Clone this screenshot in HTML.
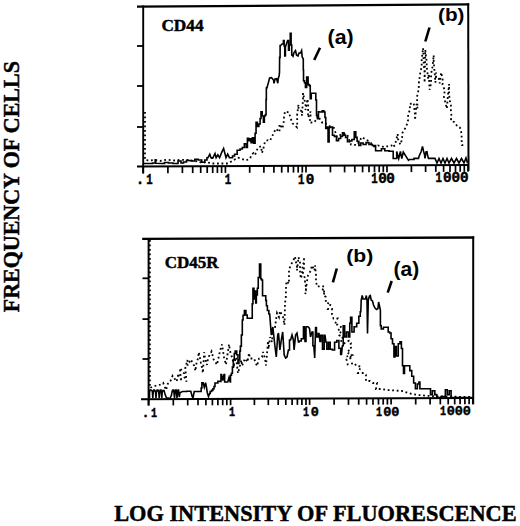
<!DOCTYPE html>
<html><head><meta charset="utf-8"><style>
html,body{margin:0;padding:0;background:#fff;}
svg{display:block;}
</style></head><body>
<svg width="520" height="526" viewBox="0 0 520 526">
<rect width="520" height="526" fill="#fff"/>
<line x1="137" y1="6.6" x2="469.2" y2="4.3" stroke="#000" stroke-width="2.3"/>
<line x1="143.2" y1="5.5" x2="143.2" y2="173.5" stroke="#000" stroke-width="1.9"/>
<line x1="468.2" y1="3.3" x2="468.5" y2="170.8" stroke="#000" stroke-width="2"/>
<line x1="137" y1="166.5" x2="469" y2="165" stroke="#000" stroke-width="2.1"/>
<line x1="137" y1="46" x2="143.2" y2="46" stroke="#000" stroke-width="1.8"/>
<line x1="137" y1="86" x2="143.2" y2="86" stroke="#000" stroke-width="1.8"/>
<line x1="137" y1="127" x2="143.2" y2="127" stroke="#000" stroke-width="1.8"/>
<line x1="143.2" y1="166.5" x2="143.2" y2="173.3" stroke="#000" stroke-width="1.7"/>
<line x1="167.9" y1="166.4" x2="167.9" y2="173.2" stroke="#000" stroke-width="1.7"/>
<line x1="182.4" y1="166.3" x2="182.4" y2="173.1" stroke="#000" stroke-width="1.7"/>
<line x1="192.7" y1="166.3" x2="192.7" y2="173.1" stroke="#000" stroke-width="1.7"/>
<line x1="200.7" y1="166.2" x2="200.7" y2="173.0" stroke="#000" stroke-width="1.7"/>
<line x1="207.2" y1="166.2" x2="207.2" y2="173.0" stroke="#000" stroke-width="1.7"/>
<line x1="212.7" y1="166.2" x2="212.7" y2="173.0" stroke="#000" stroke-width="1.7"/>
<line x1="217.4" y1="166.2" x2="217.4" y2="173.0" stroke="#000" stroke-width="1.7"/>
<line x1="221.6" y1="166.1" x2="221.6" y2="172.9" stroke="#000" stroke-width="1.7"/>
<line x1="225.4" y1="166.1" x2="225.4" y2="172.9" stroke="#000" stroke-width="1.7"/>
<line x1="249.7" y1="166.0" x2="249.7" y2="172.8" stroke="#000" stroke-width="1.7"/>
<line x1="263.9" y1="165.9" x2="263.9" y2="172.7" stroke="#000" stroke-width="1.7"/>
<line x1="273.9" y1="165.9" x2="273.9" y2="172.7" stroke="#000" stroke-width="1.7"/>
<line x1="281.7" y1="165.9" x2="281.7" y2="172.7" stroke="#000" stroke-width="1.7"/>
<line x1="288.1" y1="165.8" x2="288.1" y2="172.6" stroke="#000" stroke-width="1.7"/>
<line x1="293.5" y1="165.8" x2="293.5" y2="172.6" stroke="#000" stroke-width="1.7"/>
<line x1="298.2" y1="165.8" x2="298.2" y2="172.6" stroke="#000" stroke-width="1.7"/>
<line x1="302.3" y1="165.8" x2="302.3" y2="172.6" stroke="#000" stroke-width="1.7"/>
<line x1="306.0" y1="165.7" x2="306.0" y2="172.5" stroke="#000" stroke-width="1.7"/>
<line x1="330.4" y1="165.6" x2="330.4" y2="172.4" stroke="#000" stroke-width="1.7"/>
<line x1="344.6" y1="165.6" x2="344.6" y2="172.4" stroke="#000" stroke-width="1.7"/>
<line x1="354.8" y1="165.5" x2="354.8" y2="172.3" stroke="#000" stroke-width="1.7"/>
<line x1="362.6" y1="165.5" x2="362.6" y2="172.3" stroke="#000" stroke-width="1.7"/>
<line x1="369.0" y1="165.5" x2="369.0" y2="172.3" stroke="#000" stroke-width="1.7"/>
<line x1="374.5" y1="165.4" x2="374.5" y2="172.2" stroke="#000" stroke-width="1.7"/>
<line x1="379.2" y1="165.4" x2="379.2" y2="172.2" stroke="#000" stroke-width="1.7"/>
<line x1="383.3" y1="165.4" x2="383.3" y2="172.2" stroke="#000" stroke-width="1.7"/>
<line x1="387.0" y1="165.4" x2="387.0" y2="172.2" stroke="#000" stroke-width="1.7"/>
<line x1="411.4" y1="165.3" x2="411.4" y2="172.1" stroke="#000" stroke-width="1.7"/>
<line x1="425.6" y1="165.2" x2="425.6" y2="172.0" stroke="#000" stroke-width="1.7"/>
<line x1="435.8" y1="165.1" x2="435.8" y2="171.9" stroke="#000" stroke-width="1.7"/>
<line x1="443.6" y1="165.1" x2="443.6" y2="171.9" stroke="#000" stroke-width="1.7"/>
<line x1="450.0" y1="165.1" x2="450.0" y2="171.9" stroke="#000" stroke-width="1.7"/>
<line x1="455.5" y1="165.1" x2="455.5" y2="171.9" stroke="#000" stroke-width="1.7"/>
<line x1="460.2" y1="165.0" x2="460.2" y2="171.8" stroke="#000" stroke-width="1.7"/>
<line x1="464.3" y1="165.0" x2="464.3" y2="171.8" stroke="#000" stroke-width="1.7"/>
<line x1="468.0" y1="165.0" x2="468.0" y2="171.8" stroke="#000" stroke-width="1.7"/>
<polyline points="144.00,163.50 150.00,163.50 152.50,163.50 152.50,163.00 155.00,163.00 155.20,163.00 155.20,159.70 155.40,159.70 155.70,159.70 155.70,163.30 156.00,163.30 162.00,163.50 164.50,163.50 164.50,162.50 167.00,162.50 168.50,162.50 168.50,163.00 170.00,163.00 173.00,163.00 173.00,163.50 176.00,163.50 178.00,163.50 178.00,161.00 180.00,161.00 181.00,161.00 181.00,163.00 182.00,163.00 183.50,163.00 183.50,162.00 185.00,162.00 186.50,162.00 186.50,160.50 188.00,160.50 190.00,160.60 191.50,160.60 191.50,161.00 193.00,161.00 194.75,161.00 194.75,159.40 196.50,159.40 198.25,159.40 198.25,160.00 200.00,160.00 201.75,160.00 201.75,162.30 203.50,162.30 204.75,162.30 204.75,160.00 206.00,160.00 207.00,160.00 207.00,157.70 208.00,157.70 209.80,154.20 211.00,157.70 211.85,157.70 211.85,158.30 212.70,158.30 215.00,153.60 216.10,157.70 217.90,154.80 219.60,157.70 221.90,151.90 223.60,148.50 224.80,153.00 226.00,157.70 227.70,154.20 229.40,157.70 231.70,157.70 232.55,157.70 232.55,156.00 233.40,156.00 234.55,156.00 234.55,154.20 235.70,154.20 237.15,154.20 237.15,150.20 238.60,150.20 240.05,150.20 240.05,149.00 241.50,149.00 242.30,149.00 242.30,147.50 243.10,147.50 244.35,147.50 244.35,143.80 245.60,143.80 246.20,143.80 246.20,147.50 246.80,147.50 247.40,147.50 247.40,138.30 248.00,138.30 248.65,138.30 248.65,140.70 249.30,140.70 249.90,140.70 249.90,138.90 250.50,138.90 251.10,138.90 251.10,142.60 251.70,142.60 252.35,142.60 252.35,137.70 253.00,137.70 253.90,137.70 253.90,143.20 254.80,143.20 255.10,143.20 255.10,133.30 255.40,133.30 256.05,133.30 256.05,122.20 256.70,122.20 257.30,122.20 257.30,126.50 257.90,126.50 258.85,126.50 258.85,124.00 259.80,124.00 260.10,124.00 260.10,118.50 260.40,118.50 261.00,118.50 261.00,111.70 261.60,111.70 262.20,111.70 262.20,116.00 262.80,116.00 263.40,116.00 263.40,122.20 264.00,122.20 264.35,122.20 264.35,116.00 264.70,116.00 265.30,116.00 265.30,114.80 265.90,114.80 266.05,114.80 266.05,99.60 266.20,99.60 266.35,99.60 266.35,88.00 266.50,88.00 266.75,88.00 266.75,87.60 267.00,87.60 268.70,81.50 269.60,77.90 271.50,77.60 273.50,80.00 274.00,83.30 275.00,79.00 276.60,78.70 277.80,83.30 278.20,78.70 279.20,75.60 279.50,72.00 279.60,57.40 280.10,57.40 280.10,45.50 280.60,45.50 282.00,44.00 283.00,44.00 283.40,44.00 283.40,40.50 283.80,40.50 284.15,40.50 284.15,46.00 284.50,46.00 284.75,46.00 284.75,56.00 285.00,56.00 285.40,56.00 285.40,46.00 285.80,46.00 287.00,42.00 287.60,42.00 287.60,40.50 288.20,40.50 288.50,40.50 288.50,50.30 288.80,50.30 289.30,50.30 289.30,45.00 289.80,45.00 290.25,45.00 290.25,33.30 290.70,33.30 291.10,33.30 291.10,45.00 291.50,45.00 291.75,45.00 291.75,55.00 292.00,55.00 293.00,56.20 294.00,52.50 295.50,50.60 296.50,55.00 298.00,56.00 299.00,53.00 300.50,53.00 301.60,50.60 302.20,57.00 303.30,59.00 303.30,70.00 303.52,70.00 303.52,80.80 303.75,80.80 304.48,80.80 304.48,82.70 305.20,82.70 305.45,82.70 305.45,87.50 305.70,87.50 306.65,87.50 306.65,77.00 307.60,77.00 308.10,77.00 308.10,84.60 308.60,84.60 309.30,84.60 309.30,85.60 310.00,85.60 310.25,85.60 310.25,98.60 310.50,98.60 311.25,98.60 311.25,93.30 312.00,93.30 315.30,93.30 315.80,93.30 315.80,100.00 316.30,100.00 316.50,100.00 316.50,115.40 316.70,115.40 317.45,115.40 317.45,118.60 318.20,118.60 318.45,118.60 318.45,111.80 318.70,111.80 321.00,112.00 322.20,112.00 322.20,110.80 323.40,110.80 323.90,110.80 323.90,112.00 324.40,112.00 324.95,112.00 324.95,117.50 325.50,117.50 325.75,117.50 325.75,128.50 326.00,128.50 326.75,128.50 326.75,127.00 327.50,127.00 328.05,127.00 328.05,142.00 328.60,142.00 329.10,142.00 329.10,127.50 329.60,127.50 330.65,127.50 330.65,127.00 331.70,127.00 332.50,127.00 332.50,135.30 333.30,135.30 334.35,135.30 334.35,136.40 335.40,136.40 336.45,136.40 336.45,140.60 337.50,140.60 338.55,140.60 338.55,138.50 339.60,138.50 340.65,138.50 340.65,136.40 341.70,136.40 342.45,136.40 342.45,132.70 343.20,132.70 344.00,132.70 344.00,135.30 344.80,135.30 345.60,135.30 345.60,137.40 346.40,137.40 347.45,137.40 347.45,141.60 348.50,141.60 349.55,141.60 349.55,141.00 350.60,141.00 351.90,141.00 351.90,139.50 353.20,139.50 354.25,139.50 354.25,131.70 355.30,131.70 355.80,131.70 355.80,137.40 356.30,137.40 357.10,137.40 357.10,141.20 357.90,141.20 358.85,141.20 358.85,145.50 359.80,145.50 360.75,145.50 360.75,143.00 361.70,143.00 363.15,143.00 363.15,144.50 364.60,144.50 366.05,144.50 366.05,142.60 367.50,142.60 368.95,142.60 368.95,144.50 370.40,144.50 372.30,144.50 372.30,145.50 374.20,145.50 375.60,145.50 375.60,150.80 377.00,150.80 380.00,150.80 381.45,150.80 381.45,148.80 382.90,148.80 384.80,148.80 384.80,150.80 386.70,150.80 389.10,150.80 389.10,151.30 391.50,151.30 393.20,151.30 393.20,158.50 396.70,158.50 396.70,151.50 398.70,158.50 400.40,151.50 401.80,158.50 403.30,152.00 408.50,160.30 409.50,159.50 414.00,159.50 414.00,158.40 418.50,158.40 419.00,156.50 420.00,154.00 421.00,152.00 422.50,146.50 423.50,151.00 424.50,154.50 425.00,158.40 426.00,152.00 427.00,151.80 427.50,155.00 428.50,158.40 435.00,158.40 437.00,163.00 439.00,158.50 441.00,163.00 443.00,158.50 445.00,163.00 447.00,158.50 449.00,163.00 451.50,158.50 454.00,163.00 456.50,158.50 459.00,163.00 461.50,158.50 464.00,163.00 466.00,158.00 467.50,163.00" fill="none" stroke="#000" stroke-width="1.6" stroke-linejoin="miter"/>
<polyline points="145.0,112.0 145.0,160.0 150.0,160.5 155.0,160.0 160.0,161.0 167.0,159.7 175.0,160.5 180.0,159.7 186.0,160.0 190.5,160.0 194.0,161.5 198.0,161.0 202.0,163.0 206.0,162.0 212.0,163.5 220.0,163.5 228.0,163.5 234.0,160.0 238.0,157.7 243.0,159.3 246.0,160.5 250.0,158.6 252.0,154.3 253.5,153.1 255.0,155.0 258.0,147.5 261.0,146.3 262.0,153.1 264.0,146.3 265.0,141.4 268.0,140.1 270.0,140.7 273.0,134.6 275.8,128.8 279.5,132.0 279.5,124.2 282.5,128.5 283.8,121.2 284.0,117.0 285.0,111.4 289.0,112.5 290.5,118.0 292.5,123.3 297.0,127.3 297.3,122.0 297.0,115.7 298.5,104.5 298.5,109.5 301.5,111.0 302.0,115.7 303.0,98.6 303.0,93.0 305.5,104.5 305.5,110.0 307.5,99.0 308.2,104.5 308.0,115.5 308.2,117.5 310.6,111.5 310.5,117.5 309.5,122.5 312.0,122.5 314.0,122.5 316.0,120.0 318.0,116.0 322.0,122.5 325.0,122.5 327.0,125.0 334.0,128.0 337.0,137.0 342.0,134.0 347.0,134.0 351.0,144.7 357.0,145.0 362.0,137.0 365.0,139.0 370.0,142.0 374.0,146.5 378.0,145.5 384.0,147.0 386.0,146.3 388.4,146.3 391.5,145.5 392.3,147.5 394.9,145.2 397.7,134.0 398.0,139.0 400.3,144.6 402.0,139.6 402.4,133.0 406.3,126.3 408.1,120.1 408.1,114.6 410.2,109.1 409.5,104.1 413.7,103.0 414.4,109.6 415.0,114.6 415.0,120.1 416.6,103.8 417.6,108.4 416.9,97.1 418.1,91.9 418.8,86.9 418.8,83.3 419.5,78.2 420.3,72.5 421.7,66.7 421.7,58.8 422.4,53.7 423.1,47.9 423.9,66.7 424.6,72.5 424.6,82.6 425.3,49.8 425.7,54.4 426.7,61.6 426.7,66.7 428.2,79.0 428.9,73.9 429.6,89.8 431.1,83.3 431.1,73.9 432.5,66.7 433.7,55.2 433.7,61.6 435.4,82.6 436.1,72.5 436.1,78.2 439.0,79.0 439.7,83.3 441.2,72.5 442.6,79.0 442.6,84.7 444.8,90.5 443.9,96.6 445.4,102.8 446.9,108.6 447.8,97.1 449.1,84.0 449.1,89.8 449.1,94.1 449.6,99.7 450.9,105.4 450.9,111.0 451.5,115.8 450.9,120.5 454.5,122.2 457.5,126.5 460.0,127.7 461.6,133.5 461.6,139.6 462.0,145.2 466.0,145.2" fill="none" stroke="#000" stroke-width="1.8" stroke-dasharray="1.8 2.7"/>
<line x1="142.2" y1="238.9" x2="474.2" y2="237.5" stroke="#000" stroke-width="2.3"/>
<line x1="148.6" y1="238" x2="148.6" y2="405.5" stroke="#000" stroke-width="2"/>
<line x1="473.2" y1="236.5" x2="473.2" y2="404.2" stroke="#000" stroke-width="2"/>
<line x1="141" y1="399.2" x2="474" y2="398" stroke="#000" stroke-width="2.1"/>
<line x1="142.5" y1="278.3" x2="148.6" y2="278.3" stroke="#000" stroke-width="1.8"/>
<line x1="142.5" y1="319.1" x2="148.6" y2="319.1" stroke="#000" stroke-width="1.8"/>
<line x1="142.5" y1="359.0" x2="148.6" y2="359.0" stroke="#000" stroke-width="1.8"/>
<line x1="148.6" y1="399.2" x2="148.6" y2="405.5" stroke="#000" stroke-width="1.7"/>
<line x1="173.3" y1="399.1" x2="173.3" y2="405.4" stroke="#000" stroke-width="1.7"/>
<line x1="187.7" y1="399.1" x2="187.7" y2="405.4" stroke="#000" stroke-width="1.7"/>
<line x1="198.0" y1="399.0" x2="198.0" y2="405.3" stroke="#000" stroke-width="1.7"/>
<line x1="205.9" y1="399.0" x2="205.9" y2="405.3" stroke="#000" stroke-width="1.7"/>
<line x1="212.4" y1="399.0" x2="212.4" y2="405.3" stroke="#000" stroke-width="1.7"/>
<line x1="217.9" y1="398.9" x2="217.9" y2="405.2" stroke="#000" stroke-width="1.7"/>
<line x1="222.7" y1="398.9" x2="222.7" y2="405.2" stroke="#000" stroke-width="1.7"/>
<line x1="226.8" y1="398.9" x2="226.8" y2="405.2" stroke="#000" stroke-width="1.7"/>
<line x1="230.6" y1="398.9" x2="230.6" y2="405.2" stroke="#000" stroke-width="1.7"/>
<line x1="254.4" y1="398.8" x2="254.4" y2="405.1" stroke="#000" stroke-width="1.7"/>
<line x1="268.3" y1="398.8" x2="268.3" y2="405.1" stroke="#000" stroke-width="1.7"/>
<line x1="278.2" y1="398.7" x2="278.2" y2="405.0" stroke="#000" stroke-width="1.7"/>
<line x1="285.8" y1="398.7" x2="285.8" y2="405.0" stroke="#000" stroke-width="1.7"/>
<line x1="292.1" y1="398.7" x2="292.1" y2="405.0" stroke="#000" stroke-width="1.7"/>
<line x1="297.4" y1="398.6" x2="297.4" y2="404.9" stroke="#000" stroke-width="1.7"/>
<line x1="301.9" y1="398.6" x2="301.9" y2="404.9" stroke="#000" stroke-width="1.7"/>
<line x1="306.0" y1="398.6" x2="306.0" y2="404.9" stroke="#000" stroke-width="1.7"/>
<line x1="309.6" y1="398.6" x2="309.6" y2="404.9" stroke="#000" stroke-width="1.7"/>
<line x1="334.1" y1="398.5" x2="334.1" y2="404.8" stroke="#000" stroke-width="1.7"/>
<line x1="348.5" y1="398.5" x2="348.5" y2="404.8" stroke="#000" stroke-width="1.7"/>
<line x1="358.7" y1="398.4" x2="358.7" y2="404.7" stroke="#000" stroke-width="1.7"/>
<line x1="366.6" y1="398.4" x2="366.6" y2="404.7" stroke="#000" stroke-width="1.7"/>
<line x1="373.0" y1="398.4" x2="373.0" y2="404.7" stroke="#000" stroke-width="1.7"/>
<line x1="378.5" y1="398.3" x2="378.5" y2="404.6" stroke="#000" stroke-width="1.7"/>
<line x1="383.2" y1="398.3" x2="383.2" y2="404.6" stroke="#000" stroke-width="1.7"/>
<line x1="387.4" y1="398.3" x2="387.4" y2="404.6" stroke="#000" stroke-width="1.7"/>
<line x1="391.1" y1="398.3" x2="391.1" y2="404.6" stroke="#000" stroke-width="1.7"/>
<line x1="415.7" y1="398.2" x2="415.7" y2="404.5" stroke="#000" stroke-width="1.7"/>
<line x1="430.1" y1="398.2" x2="430.1" y2="404.5" stroke="#000" stroke-width="1.7"/>
<line x1="440.3" y1="398.1" x2="440.3" y2="404.4" stroke="#000" stroke-width="1.7"/>
<line x1="448.2" y1="398.1" x2="448.2" y2="404.4" stroke="#000" stroke-width="1.7"/>
<line x1="454.7" y1="398.1" x2="454.7" y2="404.4" stroke="#000" stroke-width="1.7"/>
<line x1="460.1" y1="398.0" x2="460.1" y2="404.3" stroke="#000" stroke-width="1.7"/>
<line x1="464.9" y1="398.0" x2="464.9" y2="404.3" stroke="#000" stroke-width="1.7"/>
<line x1="469.1" y1="398.0" x2="469.1" y2="404.3" stroke="#000" stroke-width="1.7"/>
<line x1="472.8" y1="398.0" x2="472.8" y2="404.3" stroke="#000" stroke-width="1.7"/>
<polyline points="149.50,398.00 149.50,390.50 150.25,390.50 150.25,390.00 151.00,390.00 152.30,391.00 152.80,398.00 153.30,391.00 153.90,391.00 153.90,390.00 154.50,390.00 155.50,392.00 156.00,398.00 156.50,391.00 157.25,391.00 157.25,390.00 158.00,390.00 158.70,392.00 159.20,398.00 159.70,391.00 160.35,391.00 160.35,390.00 161.00,390.00 161.80,398.00 162.30,391.00 163.15,391.00 163.15,390.50 164.00,390.50 165.00,394.00 166.50,398.00 168.25,398.00 168.25,398.50 170.00,398.50 171.50,395.00 172.20,391.00 172.95,391.00 172.95,390.00 173.70,390.00 174.50,398.00 175.20,391.00 175.75,391.00 175.75,390.00 176.30,390.00 177.00,398.00 177.80,391.00 178.20,391.00 178.20,390.00 178.60,390.00 179.30,397.00 180.00,392.70 182.30,391.50 186.55,391.50 186.55,391.20 190.80,391.20 192.00,396.00 193.00,398.00 194.20,391.50 200.80,391.50 201.15,391.50 201.15,388.00 201.50,388.00 201.90,388.00 201.90,382.70 202.30,382.70 203.20,382.70 204.30,387.30 205.60,382.70 206.50,387.30 207.30,392.70 208.50,396.50 209.60,393.50 210.20,393.50 210.20,391.50 210.80,391.50 211.55,391.50 211.55,390.40 212.30,390.40 212.90,390.40 212.90,388.80 213.50,388.80 214.05,388.80 214.05,386.50 214.60,386.50 215.00,386.50 215.00,383.00 215.40,383.00 217.85,383.00 217.85,381.40 220.30,381.40 220.95,381.40 220.95,374.60 221.60,374.60 222.80,380.70 224.00,374.60 224.65,374.60 224.65,382.00 225.30,382.00 227.80,382.00 229.00,377.60 230.20,382.00 230.50,382.00 230.50,375.20 230.80,375.20 231.45,375.20 231.45,373.30 232.10,373.30 232.40,373.30 232.40,367.10 232.70,367.10 233.30,367.10 233.30,359.70 233.90,359.70 234.25,359.70 234.25,353.50 234.60,353.50 235.20,353.50 235.20,351.10 235.80,351.10 236.70,351.10 236.70,354.80 237.60,354.80 237.95,354.80 237.95,363.40 238.30,363.40 238.90,363.40 238.90,359.70 239.50,359.70 239.80,359.70 239.80,351.10 240.10,351.10 240.40,351.10 240.40,346.10 240.70,346.10 241.35,346.10 241.35,335.00 242.00,335.00 242.30,335.00 242.30,320.00 242.60,320.00 243.05,320.00 243.05,315.20 243.50,315.20 244.40,315.20 244.40,310.50 245.30,310.50 245.90,310.50 245.90,315.00 246.50,315.00 247.25,315.00 247.25,318.30 248.00,318.30 252.00,318.30 252.25,318.30 252.25,303.70 252.50,303.70 252.95,303.70 252.95,288.30 253.40,288.30 253.95,288.30 253.95,299.00 254.50,299.00 254.95,299.00 254.95,291.00 255.40,291.00 255.70,291.00 255.70,303.00 256.00,303.00 256.35,303.00 256.35,295.00 256.70,295.00 257.35,295.00 257.35,288.30 258.00,288.30 258.25,288.30 258.25,277.50 258.50,277.50 259.50,277.50 259.50,264.00 260.50,264.00 260.75,264.00 260.75,278.80 261.00,278.80 261.55,278.80 261.55,280.00 262.10,280.00 262.55,280.00 262.55,295.70 263.00,295.70 265.50,295.70 265.75,295.70 265.75,300.40 266.00,300.40 266.40,300.40 266.40,305.80 266.80,305.80 267.40,305.80 267.40,310.50 268.00,310.50 268.85,310.50 268.85,314.00 269.70,314.00 270.60,326.00 271.30,335.00 272.80,327.00 273.50,333.00 274.90,346.00 276.30,357.00 277.70,335.00 278.50,333.00 279.90,350.00 281.30,340.00 282.70,332.00 284.20,355.00 285.60,358.00 287.00,357.00 288.40,350.00 289.50,350.00 289.50,340.00 290.60,340.00 292.00,335.00 293.40,340.00 294.10,350.00 295.60,335.00 297.00,333.00 298.40,342.00 299.20,342.00 299.20,341.00 300.00,341.00 301.30,341.00 301.30,338.80 302.60,338.80 303.45,338.80 303.45,326.70 304.30,326.70 305.00,341.40 306.00,341.40 306.00,326.70 307.00,326.70 308.00,326.70 309.50,328.40 310.50,337.00 312.00,332.00 312.90,332.00 312.90,345.70 313.80,345.70 314.70,357.90 315.60,327.60 316.45,327.60 316.45,337.00 317.30,337.00 318.15,337.00 318.15,333.60 319.00,333.60 320.00,341.40 320.80,341.40 320.80,335.40 321.60,335.40 322.50,335.40 322.50,349.20 323.40,349.20 324.20,349.20 324.20,335.40 325.00,335.40 326.00,342.30 326.85,342.30 326.85,349.20 327.70,349.20 328.55,349.20 328.55,342.30 329.40,342.30 330.20,342.30 330.20,349.20 331.00,349.20 332.35,349.20 332.35,350.00 333.70,350.00 334.60,350.00 334.60,342.30 335.50,342.30 336.75,342.30 336.75,340.60 338.00,340.60 338.90,340.60 338.90,348.30 339.80,348.30 340.65,348.30 340.65,354.40 341.50,354.40 342.40,345.70 343.20,345.70 343.20,325.80 344.00,325.80 344.65,325.80 344.65,337.00 345.30,337.00 346.45,337.00 346.45,332.00 347.60,332.00 348.45,332.00 348.45,337.00 349.30,337.00 349.75,337.00 349.75,323.30 350.20,323.30 350.60,323.30 350.60,317.20 351.00,317.20 351.90,317.20 351.90,332.00 352.80,332.00 354.10,332.00 354.10,326.70 355.40,326.70 356.70,326.70 356.70,323.30 358.00,323.30 358.85,323.30 358.85,316.30 359.70,316.30 360.25,316.30 360.25,311.70 360.80,311.70 361.20,300.00 362.20,295.50 363.00,299.00 365.50,299.00 366.30,295.50 367.00,300.00 367.50,333.60 368.30,300.00 369.50,296.00 370.30,295.50 371.20,300.00 372.50,301.00 373.50,305.00 375.00,308.00 376.50,309.50 378.00,308.50 378.60,302.00 379.30,305.00 380.40,310.30 380.40,325.80 381.20,325.80 381.20,329.00 382.00,329.00 383.40,329.00 383.40,327.30 384.80,327.30 387.70,327.30 388.20,327.30 388.20,332.00 388.70,332.00 389.65,332.00 389.65,333.00 390.60,333.00 391.05,333.00 391.05,338.80 391.50,338.80 392.50,338.80 392.50,343.70 393.50,343.70 393.95,343.70 393.95,357.00 394.40,357.00 394.90,357.00 394.90,346.50 395.40,346.50 396.35,346.50 396.35,356.00 397.30,356.00 398.25,356.00 398.25,343.70 399.20,343.70 400.00,343.70 400.00,341.70 400.80,341.70 401.40,341.70 401.40,348.50 402.00,348.50 402.50,348.50 402.50,365.80 403.00,365.80 403.50,365.80 403.50,373.50 404.00,373.50 404.50,373.50 404.50,365.80 405.00,365.80 408.80,365.80 409.80,365.80 409.80,370.60 410.80,370.60 411.75,370.60 411.75,376.30 412.70,376.30 413.65,376.30 413.65,383.00 414.60,383.00 415.40,383.00 415.40,388.80 416.20,388.80 417.35,388.80 417.35,384.00 418.50,384.00 418.95,384.00 418.95,382.00 419.40,382.00 419.90,382.00 419.90,388.80 420.40,388.80 430.00,388.80 430.50,388.80 430.50,394.60 431.00,394.60 432.40,394.60 432.40,390.80 433.80,390.80 434.80,390.80 434.80,394.60 435.80,394.60 436.75,394.60 436.75,397.50 437.70,397.50 441.05,397.50 441.05,396.50 444.40,396.50 445.35,396.50 445.35,389.80 446.30,389.80 447.30,389.80 447.30,394.60 448.30,394.60 449.25,394.60 449.25,390.80 450.20,390.80 451.10,390.80 451.10,397.50 452.00,397.50 472.00,397.50" fill="none" stroke="#000" stroke-width="1.6" stroke-linejoin="miter"/>
<polyline points="149.9,240.0 149.9,388.0 152.0,387.0 155.0,386.0 161.2,384.4 163.2,383.0 166.0,390.0 167.9,383.7 169.9,382.4 172.6,375.8 176.6,381.5 178.5,373.5 178.5,376.5 181.0,378.7 181.0,381.5 179.9,368.0 184.0,373.5 184.0,376.5 186.5,381.5 185.3,368.0 187.5,360.0 187.5,365.5 190.8,359.5 194.1,365.6 195.5,371.0 196.1,364.9 198.2,357.5 198.8,352.1 200.9,362.9 202.2,368.3 202.9,373.0 204.2,352.1 204.9,357.5 206.9,364.9 208.3,357.5 211.6,351.4 213.6,359.5 217.0,364.7 220.0,351.0 222.0,344.3 224.0,357.2 226.0,364.7 229.0,344.3 230.0,351.0 232.0,357.2 234.0,364.7 236.0,357.2 238.0,373.3 241.4,360.0 242.0,366.0 245.0,358.5 247.5,362.0 249.0,353.0 250.0,358.5 254.0,358.5 257.0,366.0 259.0,358.5 262.0,357.0 263.0,352.0 265.0,358.5 266.0,365.5 267.0,354.0 268.0,341.0 268.5,349.0 270.0,337.0 272.0,342.0 273.0,327.0 275.0,327.0 277.0,313.0 279.0,317.0 280.0,311.0 283.0,317.0 284.5,325.0 285.0,303.0 285.8,297.3 286.0,287.0 286.5,281.2 287.3,282.0 289.0,283.8 289.0,278.5 289.0,273.0 289.0,270.5 290.4,265.5 292.7,262.0 295.0,256.5 296.0,262.3 297.0,265.4 297.0,270.5 298.5,257.3 300.0,262.3 300.0,268.0 300.0,273.0 301.0,278.5 302.5,270.5 302.5,265.4 304.0,262.3 304.0,257.0 304.0,268.0 303.0,273.0 305.0,278.5 305.0,283.8 306.0,286.7 306.0,289.6 305.3,294.2 307.0,281.2 308.0,275.6 310.5,271.0 312.0,265.4 314.5,270.5 315.0,265.4 316.0,275.6 316.0,281.2 317.0,286.5 320.3,286.3 324.2,286.3 323.0,289.0 321.8,291.5 325.8,291.5 323.0,295.0 325.8,297.0 325.8,303.0 331.0,303.5 328.0,309.0 332.0,309.0 332.0,314.5 333.5,318.5 337.5,318.5 334.7,324.6 337.8,324.6 341.5,327.5 337.8,330.7 341.5,333.0 339.5,335.4 343.0,337.0 340.3,340.0 343.9,343.6 349.0,340.7 351.0,343.0 349.8,345.9 351.5,348.7 346.7,352.0 348.7,353.4 352.0,355.0 346.7,356.5 349.6,356.5 352.6,357.5 346.5,359.5 347.7,364.4 354.3,363.0 356.3,366.0 361.0,366.5 358.0,373.0 364.0,373.0 366.0,375.0 366.0,381.0 370.0,381.0 373.0,383.0 377.0,383.0 376.0,389.0 381.0,389.0 388.0,390.0 395.0,390.5 402.0,391.0 410.0,393.5 418.0,395.0 430.0,396.0 445.0,396.5 470.0,397.0" fill="none" stroke="#000" stroke-width="1.8" stroke-dasharray="1.8 2.7"/>
<line x1="320" y1="47.7" x2="314.2" y2="60" stroke="#000" stroke-width="2.6"/>
<line x1="429.5" y1="27.5" x2="425.3" y2="41.5" stroke="#000" stroke-width="2.6"/>
<line x1="336.8" y1="268.5" x2="332.9" y2="282.3" stroke="#000" stroke-width="2.6"/>
<line x1="391.7" y1="281" x2="387.7" y2="292.6" stroke="#000" stroke-width="2.6"/>
<text transform="translate(161.39,30.50) scale(0.9738,1)" style="font-family:'Liberation Serif',serif;font-weight:bold;font-size:17.73px" stroke="#000" stroke-width="0.45">CD44</text>
<text transform="translate(164.65,267.50) scale(0.9603,1)" style="font-family:'Liberation Serif',serif;font-weight:bold;font-size:17.73px" stroke="#000" stroke-width="0.45">CD45R</text>
<text transform="translate(327.53,43.54) scale(1.0285,1)" style="font-family:'Liberation Sans',sans-serif;font-weight:bold;font-size:20.75px">(a)</text>
<text transform="translate(438.07,20.50) scale(1.1442,1)" style="font-family:'Liberation Sans',sans-serif;font-weight:bold;font-size:18.07px">(b)</text>
<text transform="translate(346.14,261.76) scale(1.1008,1)" style="font-family:'Liberation Sans',sans-serif;font-weight:bold;font-size:19.25px">(b)</text>
<text transform="translate(393.55,276.14) scale(1.0113,1)" style="font-family:'Liberation Sans',sans-serif;font-weight:bold;font-size:20.75px">(a)</text>
<text transform="translate(114.16,521.30) scale(0.9837,1)" style="font-family:'Liberation Serif',serif;font-weight:bold;font-size:22.73px" stroke="#000" stroke-width="0.45">LOG INTENSITY OF FLUORESCENCE</text>
<text transform="translate(18.80,312.23) rotate(-90) scale(0.9475,1)" style="font-family:'Liberation Serif',serif;font-weight:bold;font-size:23.21px" stroke="#000" stroke-width="0.45">FREQUENCY OF CELLS</text>
<text transform="translate(140.00,184.2) scale(1.0,1)" text-anchor="middle" style="font-family:'Liberation Mono',monospace;font-weight:bold;font-size:14.3px" stroke="#000" stroke-width="0.45">.</text>
<text transform="translate(149.40,184.2) scale(0.75,1)" text-anchor="middle" style="font-family:'Liberation Mono',monospace;font-weight:bold;font-size:14.3px" stroke="#000" stroke-width="0.45">1</text>
<text transform="translate(227.90,183.5) scale(0.75,1)" text-anchor="middle" style="font-family:'Liberation Mono',monospace;font-weight:bold;font-size:14.3px" stroke="#000" stroke-width="0.45">1</text>
<text transform="translate(301.30,183.5) scale(0.75,1)" text-anchor="middle" style="font-family:'Liberation Mono',monospace;font-weight:bold;font-size:14.3px" stroke="#000" stroke-width="0.45">1</text>
<text transform="translate(309.95,183.5) scale(1.0,1)" text-anchor="middle" style="font-family:'Liberation Mono',monospace;font-weight:bold;font-size:14.3px" stroke="#000" stroke-width="0.45">0</text>
<text transform="translate(374.50,182.7) scale(0.75,1)" text-anchor="middle" style="font-family:'Liberation Mono',monospace;font-weight:bold;font-size:14.3px" stroke="#000" stroke-width="0.45">1</text>
<text transform="translate(382.57,182.7) scale(1.0,1)" text-anchor="middle" style="font-family:'Liberation Mono',monospace;font-weight:bold;font-size:14.3px" stroke="#000" stroke-width="0.45">0</text>
<text transform="translate(390.64,182.7) scale(1.0,1)" text-anchor="middle" style="font-family:'Liberation Mono',monospace;font-weight:bold;font-size:14.3px" stroke="#000" stroke-width="0.45">0</text>
<text transform="translate(438.70,182.0) scale(0.75,1)" text-anchor="middle" style="font-family:'Liberation Mono',monospace;font-weight:bold;font-size:14.3px" stroke="#000" stroke-width="0.45">1</text>
<text transform="translate(447.20,182.0) scale(1.0,1)" text-anchor="middle" style="font-family:'Liberation Mono',monospace;font-weight:bold;font-size:14.3px" stroke="#000" stroke-width="0.45">0</text>
<text transform="translate(455.70,182.0) scale(1.0,1)" text-anchor="middle" style="font-family:'Liberation Mono',monospace;font-weight:bold;font-size:14.3px" stroke="#000" stroke-width="0.45">0</text>
<text transform="translate(464.20,182.0) scale(1.0,1)" text-anchor="middle" style="font-family:'Liberation Mono',monospace;font-weight:bold;font-size:14.3px" stroke="#000" stroke-width="0.45">0</text>
<text transform="translate(145.50,417.3) scale(1.0,1)" text-anchor="middle" style="font-family:'Liberation Mono',monospace;font-weight:bold;font-size:13.5px" stroke="#000" stroke-width="0.45">.</text>
<text transform="translate(154.00,417.3) scale(0.75,1)" text-anchor="middle" style="font-family:'Liberation Mono',monospace;font-weight:bold;font-size:13.5px" stroke="#000" stroke-width="0.45">1</text>
<text transform="translate(232.00,416.3) scale(0.75,1)" text-anchor="middle" style="font-family:'Liberation Mono',monospace;font-weight:bold;font-size:13.5px" stroke="#000" stroke-width="0.45">1</text>
<text transform="translate(306.10,416.2) scale(0.75,1)" text-anchor="middle" style="font-family:'Liberation Mono',monospace;font-weight:bold;font-size:13.5px" stroke="#000" stroke-width="0.45">1</text>
<text transform="translate(314.75,416.2) scale(1.0,1)" text-anchor="middle" style="font-family:'Liberation Mono',monospace;font-weight:bold;font-size:13.5px" stroke="#000" stroke-width="0.45">0</text>
<text transform="translate(379.00,415.9) scale(0.75,1)" text-anchor="middle" style="font-family:'Liberation Mono',monospace;font-weight:bold;font-size:13.5px" stroke="#000" stroke-width="0.45">1</text>
<text transform="translate(387.20,415.9) scale(1.0,1)" text-anchor="middle" style="font-family:'Liberation Mono',monospace;font-weight:bold;font-size:13.5px" stroke="#000" stroke-width="0.45">0</text>
<text transform="translate(395.40,415.9) scale(1.0,1)" text-anchor="middle" style="font-family:'Liberation Mono',monospace;font-weight:bold;font-size:13.5px" stroke="#000" stroke-width="0.45">0</text>
<text transform="translate(443.00,415.2) scale(0.75,1)" text-anchor="middle" style="font-family:'Liberation Mono',monospace;font-weight:bold;font-size:13.5px" stroke="#000" stroke-width="0.45">1</text>
<text transform="translate(450.90,415.2) scale(1.0,1)" text-anchor="middle" style="font-family:'Liberation Mono',monospace;font-weight:bold;font-size:13.5px" stroke="#000" stroke-width="0.45">0</text>
<text transform="translate(458.80,415.2) scale(1.0,1)" text-anchor="middle" style="font-family:'Liberation Mono',monospace;font-weight:bold;font-size:13.5px" stroke="#000" stroke-width="0.45">0</text>
<text transform="translate(466.70,415.2) scale(1.0,1)" text-anchor="middle" style="font-family:'Liberation Mono',monospace;font-weight:bold;font-size:13.5px" stroke="#000" stroke-width="0.45">0</text>
</svg>
</body></html>
